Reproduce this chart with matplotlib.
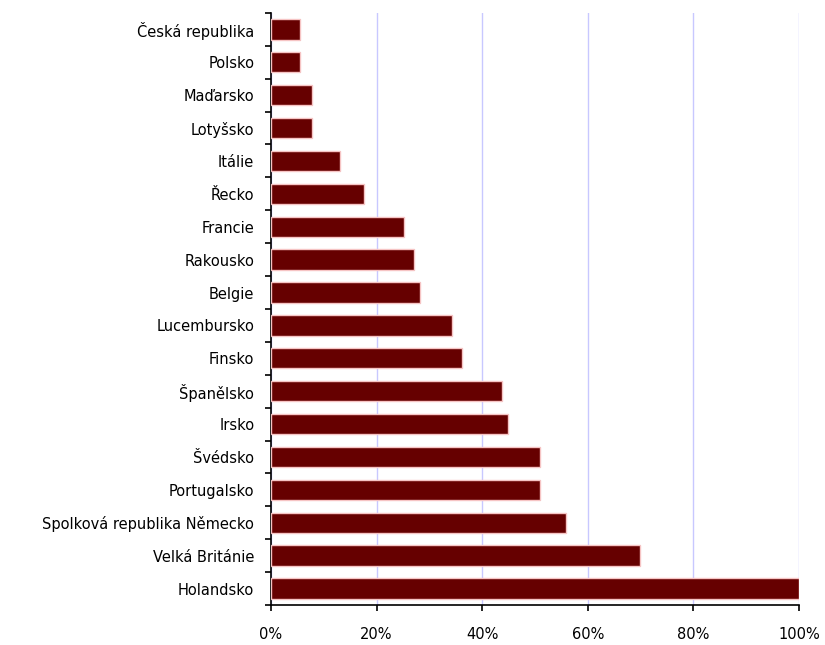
import matplotlib
matplotlib.use("Agg")
import matplotlib.pyplot as plt
import numpy as np
from matplotlib.ticker import FixedLocator, PercentFormatter

countries = ["Česká republika", "Polsko", "Maďarsko", "Lotyšsko", "Itálie", "Řecko",
             "Francie", "Rakousko", "Belgie", "Lucembursko", "Finsko", "Španělsko",
             "Irsko", "Švédsko", "Portugalsko", "Spolková republika Německo",
             "Velká Británie", "Holandsko"]
values = [5.5, 5.5, 7.8, 7.8, 13.0, 17.6, 25.2, 27.0, 28.2, 34.3, 36.2, 43.8,
          44.9, 51.0, 51.0, 55.9, 69.9, 100.0]
xticks = [0, 20, 40, 60, 80, 100]

plt.rcParams['font.family'] = ['DejaVu Sans']

fig = plt.figure(figsize=(8.25, 6.45), dpi=100)
ax = fig.add_axes([0.3285, 0.062, 0.64, 0.918])

n = len(countries)
y = np.arange(n)
ax.barh(y, values, height=0.62, color="#660000", edgecolor="#f6c4c4", linewidth=1.0, zorder=3)
ax.set_ylim(n - 0.5, -0.5)
ax.set_xlim(0, 100)

ax.set_yticks(y)
ax.set_yticklabels(countries, fontsize=10.5)
ax.yaxis.set_minor_locator(FixedLocator(np.arange(-0.5, n, 1.0)))
ax.tick_params(axis='y', which='major', length=0, pad=12)
ax.tick_params(axis='y', which='minor', length=4, width=1.2, direction='out')

ax.set_xticks(xticks)
ax.xaxis.set_major_formatter(PercentFormatter(decimals=0))
ax.tick_params(axis='x', which='major', length=4, width=1.2, direction='out', pad=12, labelsize=10.5)

ax.grid(axis='x', color="#c8c8ff", linewidth=1, zorder=0)
for s in ["top", "right"]:
    ax.spines[s].set_visible(False)
ax.spines["left"].set_linewidth(1.2)
ax.spines["bottom"].set_linewidth(1.2)

fig.savefig("out.png", dpi=100)
